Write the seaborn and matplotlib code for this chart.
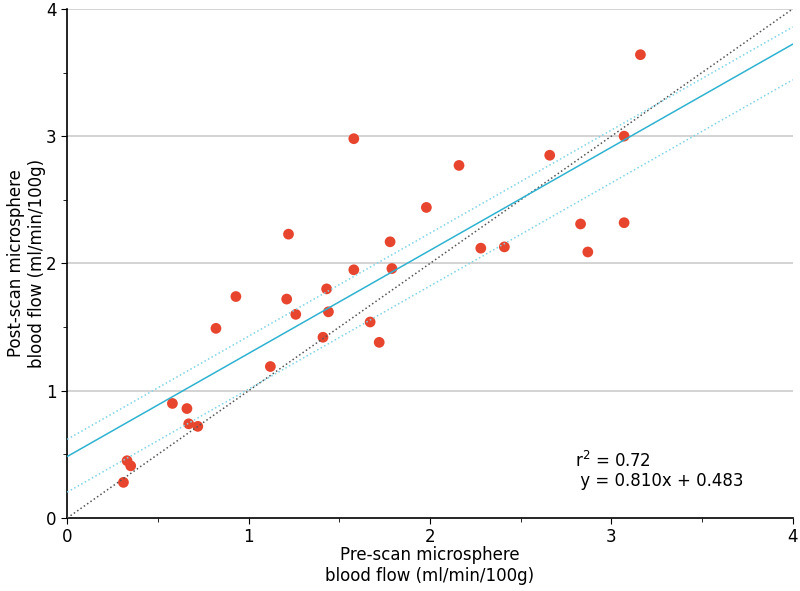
import numpy as np
import pandas as pd
import matplotlib
matplotlib.use("Agg")
import matplotlib.pyplot as plt
import seaborn as sns

# pre-scan vs post-scan microsphere blood flow (ml/min/100g)
pre_scan = [0.31, 0.33, 0.35, 0.58, 0.66, 0.67, 0.72, 0.82, 0.93, 1.12,
            1.22, 1.21, 1.26, 1.41, 1.43, 1.44, 1.58, 1.58, 1.67, 1.72,
            1.78, 1.79, 1.98, 2.16, 2.28, 2.41, 2.66, 2.83, 2.87, 3.07,
            3.07, 3.16]
post_scan = [0.28, 0.45, 0.41, 0.90, 0.86, 0.74, 0.72, 1.49, 1.74, 1.19,
             2.23, 1.72, 1.60, 1.42, 1.80, 1.62, 2.98, 1.95, 1.54, 1.38,
             2.17, 1.96, 2.44, 2.77, 2.12, 2.13, 2.85, 2.31, 2.09, 3.00,
             2.32, 3.64]

slope = 0.810
intercept = 0.483
r_squared = 0.72
band_upper = 0.135
band_lower = -0.28

df = pd.DataFrame({"pre": pre_scan, "post": post_scan})

sns.set_style("white")
plt.rcParams["font.family"] = ["DejaVu Sans"]
plt.rcParams["text.color"] = "black"
plt.rcParams["axes.labelcolor"] = "black"
plt.rcParams["xtick.color"] = "black"
plt.rcParams["ytick.color"] = "black"

fig, ax = plt.subplots(figsize=(8, 5.91), dpi=100)
fig.subplots_adjust(left=0.084, right=0.991, bottom=0.1235, top=0.985)

for yv in [1, 2, 3, 4]:
    ax.axhline(yv, color="#cccccc", lw=1.2, zorder=0)

sns.scatterplot(data=df, x="pre", y="post", color="#e8452f", s=60,
                edgecolor="none", ax=ax, zorder=2)

xs = np.array([0, 4])
ax.plot(xs, xs, color="#555555", ls=":", lw=1.1, zorder=3)
ax.plot(xs, slope * xs + intercept, color="#2fb2d0", lw=1.1, zorder=3)
ax.plot(xs, slope * xs + intercept + band_upper, color="#7fd3e6", ls=":", lw=1.1, zorder=3)
ax.plot(xs, slope * xs + intercept + band_lower, color="#7fd3e6", ls=":", lw=1.1, zorder=3)

ax.text(2.8, 0.22, "r$^2$ = %.2f\n y = %.3fx + %.3f" % (r_squared, slope, intercept),
        fontsize=12, ha="left", va="bottom", linespacing=1.1)

ax.set_xlim(0, 4)
ax.set_ylim(0, 4)
ax.set_xticks([0, 1, 2, 3, 4])
ax.set_yticks([0, 1, 2, 3, 4])
ax.set_xticks([0.5, 1.5, 2.5, 3.5], minor=True)
ax.set_yticks([0.5, 1.5, 2.5, 3.5], minor=True)
ax.tick_params(axis="both", which="major", direction="out", length=4, labelsize=12,
               bottom=True, left=True)
ax.tick_params(axis="both", which="minor", direction="out", length=3,
               bottom=True, left=True)
ax.set_xlabel("Pre-scan microsphere\nblood flow (ml/min/100g)", fontsize=12, labelpad=0)
ax.set_ylabel("Post-scan microsphere\nblood flow (ml/min/100g)", fontsize=12, labelpad=0)
sns.despine(ax=ax)
for side in ["left", "bottom"]:
    ax.spines[side].set_color("black")
    ax.spines[side].set_linewidth(1.2)

fig.savefig("out.png", dpi=100)
